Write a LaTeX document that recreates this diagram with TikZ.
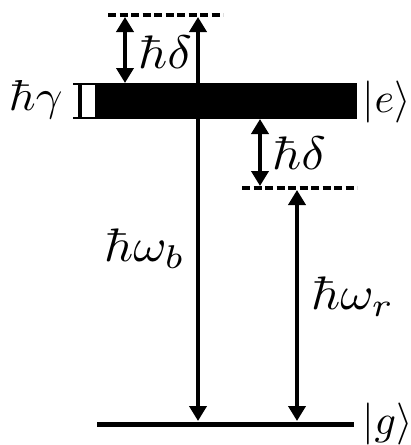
\documentclass[tikz,border=0pt]{standalone}
\usetikzlibrary{arrows.meta}
\begin{document}
\begin{tikzpicture}[x=1pt,y=-1pt,
  lbl/.style={inner sep=0pt,scale=4.7,xscale=1.08,anchor=base west},
  ket/.style={inner sep=0pt,scale=4.2,anchor=base west},
  trans/.style={line width=4pt,{Triangle[length=15pt,width=17pt]}-{Triangle[length=15pt,width=17pt]},shorten <=0pt,shorten >=0pt},
  virt/.style={line width=3.5pt,dash pattern=on 8pt off 3.5pt},
  lev/.style={line width=5pt}]
\useasboundingbox (0,0) rectangle (411,445);
% excited band
\fill (95,83) rectangle (357,119);
% width bracket
\draw[line width=1.5pt] (73,84) -- (95,84) (73,118) -- (95,118);
\draw[line width=4pt] (80,84) -- (80,118);
% virtual levels
\coordinate (b1) at (108,15); \coordinate (b2) at (223,15);
\draw[virt] (b1) -- (b2);
\coordinate (r1) at (242,188); \coordinate (r2) at (357,188);
\draw[virt] (r1) -- (r2);
% ground
\coordinate (g1) at (97,424); \coordinate (g2) at (354,424);
\draw[lev] (g1) -- (g2);
% arrow endpoints
\coordinate (dT1) at (125,17); \coordinate (dB1) at (125,83);
\coordinate (dT2) at (260,119); \coordinate (dB2) at (260,186);
\coordinate (bT) at (198,17); \coordinate (bB) at (198,421);
\coordinate (rT) at (297,190); \coordinate (rB) at (297,421);
\draw[trans] (dT1) -- (dB1);
\draw[trans] (dT2) -- (dB2);
\draw[trans] (bT) -- (bB);
\draw[trans] (rT) -- (rB);
% labels
\node[lbl,scale=0.92] (lg) at (8,110) {$\hbar\gamma$};
\node[lbl] (ld1) at (137,68) {$\hbar\delta$};
\node[lbl] (ld2) at (271,169) {$\hbar\delta$};
\node[lbl] (lb) at (103,261) {$\hbar\omega_b$};
\node[lbl] (lr) at (310,309) {$\hbar\omega_r$};
\node[ket] (le) at (362,112) {$|e\rangle$};
\node[ket] (lgg) at (362,434) {$|g\rangle$};
\end{tikzpicture}
\end{document}
